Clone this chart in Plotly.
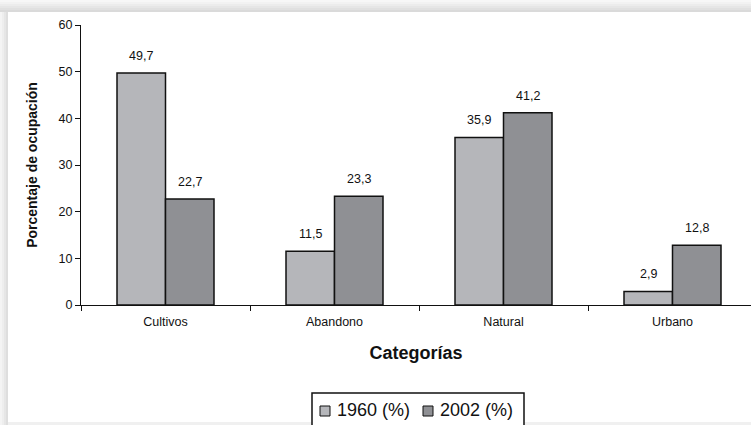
import plotly.graph_objects as go

categories = ["Cultivos", "Abandono", "Natural", "Urbano"]
values_1960 = [49.7, 11.5, 35.9, 2.9]
values_2002 = [22.7, 23.3, 41.2, 12.8]
series_names = ["1960 (%)", "2002 (%)"]
y_ticks = [0, 10, 20, 30, 40, 50, 60]

W, H = 751, 425
L, R, T, B = 81, 0, 25, 120
pw, ph = W - L - R, H - T - B
BARGAP = 0.426

COL_1960 = "#b5b6ba"
COL_2002 = "#8f9094"
INK = "#111111"


def px_x(p):
    return (p - L) / pw


def px_y(p):
    return (H - B - p) / ph


def fmt(v):
    return f"{v:.1f}".replace(".", ",")


FONT = "Liberation Sans, Arial, sans-serif"

fig = go.Figure()
fig.add_trace(go.Bar(
    x=categories, y=values_1960, name=series_names[0],
    marker=dict(color=COL_1960, line=dict(color=INK, width=1.5)),
))
fig.add_trace(go.Bar(
    x=categories, y=values_2002, name=series_names[1],
    marker=dict(color=COL_2002, line=dict(color=INK, width=1.5)),
))

annotations = []
half = (1 - BARGAP) / 4
for series, off in ((values_1960, -half), (values_2002, half)):
    for i, v in enumerate(series):
        annotations.append(dict(x=i + off, y=v, xref="x", yref="y", text=fmt(v),
                                showarrow=False, yanchor="bottom", yshift=8,
                                font=dict(size=12.5, family=FONT, color=INK)))

# page-like shadow frame
shapes = []
left_steps = ["#f4f4f4", "#eeeeee", "#e6e6e6", "#dedede"]
for i, c in enumerate(left_steps):
    shapes.append(dict(type="rect", xref="paper", yref="paper",
                       x0=px_x(i * 2), x1=px_x(i * 2 + 2), y0=px_y(425), y1=px_y(12),
                       fillcolor=c, line=dict(width=0), layer="below"))
top_steps = ["#f7f7f7", "#f2f2f2", "#ececec", "#e6e6e6", "#e0e0e0", "#dadada"]
for i, c in enumerate(top_steps):
    shapes.append(dict(type="rect", xref="paper", yref="paper",
                       x0=px_x(0), x1=px_x(751), y0=px_y(i * 2 + 2), y1=px_y(i * 2),
                       fillcolor=c, line=dict(width=0), layer="below"))
shapes.append(dict(type="rect", xref="paper", yref="paper",
                   x0=px_x(8), x1=px_x(751), y0=px_y(425), y1=px_y(422),
                   fillcolor="#f0f0f0", line=dict(width=0), layer="below"))

# legend box (drawn manually to match the compact layout)
shapes.append(dict(type="rect", xref="paper", yref="paper",
                   x0=px_x(312), x1=px_x(524), y0=px_y(428), y1=px_y(393),
                   fillcolor="#ffffff", line=dict(color=INK, width=1.5)))
legend_items = [(series_names[0], COL_1960, 320, 335), (series_names[1], COL_2002, 423, 438)]
for name, col, sx, tx in legend_items:
    shapes.append(dict(type="rect", xref="paper", yref="paper",
                       x0=px_x(sx), x1=px_x(sx + 10), y0=px_y(416), y1=px_y(406),
                       fillcolor=col, line=dict(color=INK, width=1)))
    annotations.append(dict(xref="paper", yref="paper", x=px_x(tx), y=px_y(410),
                            xanchor="left", yanchor="middle", text=name, showarrow=False,
                            font=dict(size=18, family=FONT, color=INK)))

fig.update_layout(
    width=W, height=H,
    margin=dict(l=L, r=R, t=T, b=B, pad=0),
    paper_bgcolor="#ffffff", plot_bgcolor="#ffffff",
    font=dict(family=FONT, size=12, color=INK),
    barmode="group", bargap=BARGAP, bargroupgap=0,
    shapes=shapes, annotations=annotations,
    showlegend=False,
    xaxis=dict(
        range=[-0.5, -0.5 + pw / 169], tickson="boundaries", automargin=False,
        ticks="outside", ticklen=5, tickcolor=INK, ticklabelstandoff=5,
        showline=True, linecolor=INK, linewidth=1,
        showgrid=False, zeroline=False,
        tickfont=dict(size=12.5, family=FONT),
        title=dict(text="<b>Categorías</b>", font=dict(size=18, family=FONT), standoff=18),
    ),
    yaxis=dict(
        range=[0, 60], tickvals=y_ticks, automargin=False,
        ticks="outside", ticklen=5, tickcolor=INK,
        showline=True, linecolor=INK, linewidth=1,
        showgrid=False, zeroline=False,
        tickfont=dict(size=12.5, family=FONT),
        title=dict(text="<b>Porcentaje de ocupación</b>", font=dict(size=14, family=FONT), standoff=17),
    ),
)

fig.write_html("out.html", config={"displayModeBar": False},
               post_script="document.body.style.margin='0';document.body.style.padding='0';")
